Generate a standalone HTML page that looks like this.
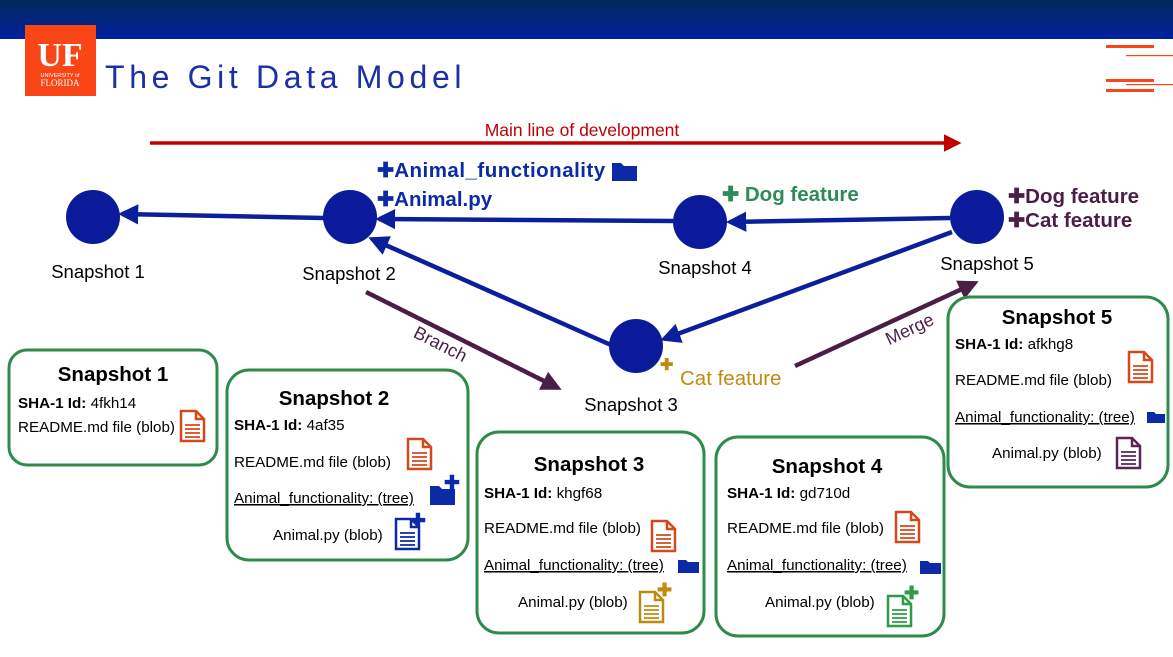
<!DOCTYPE html>
<html><head><meta charset="utf-8"><style>
html,body{margin:0;padding:0;background:#fff}
svg{display:block;font-family:"Liberation Sans",sans-serif}
.b{font-family:"Liberation Sans",sans-serif;font-size:15.2px;fill:#000}
.t{font-size:20.5px;font-weight:bold;text-anchor:middle}
.l{font-size:18.5px;fill:#000;text-anchor:middle}
.u{text-decoration:underline;text-decoration-color:#e03030}
</style></head><body>
<svg width="1173" height="657" viewBox="0 0 1173 657">
<defs>
<linearGradient id="hg" x1="0" y1="0" x2="0" y2="1"><stop offset="0" stop-color="#002a5a"/><stop offset="1" stop-color="#0020a0"/></linearGradient>
<marker id="ab" viewBox="0 0 10 10" refX="8" refY="5" markerWidth="4.5" markerHeight="4.5" orient="auto"><path d="M0 0L10 5L0 10Z" fill="#0b1f9c"/></marker>
<marker id="ap" viewBox="0 0 10 10" refX="8" refY="5" markerWidth="4.5" markerHeight="4.5" orient="auto"><path d="M0 0L10 5L0 10Z" fill="#4b1e48"/></marker>
<marker id="ar" viewBox="0 0 10 10" refX="8" refY="5" markerWidth="5" markerHeight="5" orient="auto"><path d="M0 0L10 5L0 10Z" fill="#c00000"/></marker>
</defs>
<rect x="0" y="0" width="1173" height="39" fill="url(#hg)"/>
<rect x="25" y="25" width="71" height="71" fill="#fa4616"/>
<text x="60" y="66" text-anchor="middle" font-family="Liberation Serif,serif" font-weight="bold" font-size="34" fill="#fff">UF</text>
<text x="60" y="77" text-anchor="middle" font-size="5.5" fill="#fff">UNIVERSITY of</text>
<text x="60" y="86" text-anchor="middle" font-family="Liberation Serif,serif" font-size="9" fill="#fff">FLORIDA</text>
<text x="105" y="88" font-size="32" fill="#1a2fa8" letter-spacing="1.5" textLength="358">The Git Data Model</text>
<rect x="1106" y="45" width="48" height="3" fill="#fa4616"/>
<rect x="1126" y="55" width="47" height="1.2" fill="#fa4616"/>
<rect x="1106" y="79" width="48" height="3" fill="#fa4616"/>
<rect x="1126" y="84" width="47" height="1.2" fill="#fa4616"/>
<rect x="1106" y="89" width="48" height="3" fill="#fa4616"/>

<line x1="150" y1="143" x2="958" y2="143" stroke="#c00000" stroke-width="3.5" marker-end="url(#ar)"/>
<text x="582" y="136" text-anchor="middle" font-size="17.5" fill="#c00000">Main line of development</text>

<g stroke="#0b1f9c" stroke-width="4.5" fill="none">
<line x1="324" y1="218" x2="122" y2="214" marker-end="url(#ab)"/>
<line x1="673" y1="221" x2="379" y2="219" marker-end="url(#ab)"/>
<line x1="950" y1="218" x2="730" y2="222" marker-end="url(#ab)"/>
<line x1="611" y1="345" x2="372" y2="239" marker-end="url(#ab)"/>
<line x1="952" y1="232" x2="664" y2="339" marker-end="url(#ab)"/>
</g>
<g stroke="#4b1e48" stroke-width="4.5">
<line x1="366" y1="292" x2="558" y2="388" marker-end="url(#ap)"/>
<line x1="795" y1="366" x2="975" y2="283" marker-end="url(#ap)"/>
</g>
<text x="440" y="350" font-size="18" fill="#4b1e48" text-anchor="middle" transform="rotate(27 440 345)">Branch</text>
<text x="910" y="335" font-size="18" fill="#4b1e48" text-anchor="middle" transform="rotate(-25 910 330)">Merge</text>

<g fill="#0a1a9a">
<circle cx="93" cy="217" r="27"/><circle cx="350" cy="217" r="27"/><circle cx="700" cy="222" r="27"/><circle cx="977" cy="217" r="27"/><circle cx="636" cy="346" r="27"/>
</g>
<text class="l" x="98" y="278">Snapshot 1</text>
<text class="l" x="349" y="280">Snapshot 2</text>
<text class="l" x="705" y="274">Snapshot 4</text>
<text class="l" x="987" y="270">Snapshot 5</text>
<text class="l" x="631" y="411">Snapshot 3</text>

<g font-size="20.5" font-weight="bold">
<text x="377" y="177" fill="#0d2aa6">✚<tspan textLength="211">Animal_functionality</tspan></text>
<text x="377" y="206" fill="#0d2aa6">✚Animal.py</text>
<text x="722" y="201" fill="#2e8b57">✚ <tspan>Dog feature</tspan></text>
<text x="1008" y="203" fill="#4b1e48">✚Dog feature</text>
<text x="1008" y="227" fill="#4b1e48">✚Cat feature</text>
</g>
<path d="M612 181V163h9l3 3h13v15Z" fill="#0d2aa6"/>
<text x="660" y="370" font-size="16" font-weight="bold" fill="#c08a10">✚</text>
<text x="680" y="385" font-size="20.5" fill="#c08a10">Cat feature</text>

<g fill="#fff" stroke="#2e8b4a" stroke-width="3">
<rect x="9" y="350" width="208" height="115" rx="18"/>
<rect x="227" y="370" width="241" height="190" rx="22"/>
<rect x="477" y="432" width="227" height="201" rx="22"/>
<rect x="716" y="437" width="228" height="199" rx="22"/>
<rect x="948" y="297" width="220" height="190" rx="22"/>
</g>

<!-- card 1 -->
<text class="b t" x="113" y="381">Snapshot 1</text>
<text class="b" x="18" y="408"><tspan font-weight="bold">SHA-1 Id:</tspan> 4fkh14</text>
<text class="b" x="18" y="432">README.md file (blob)</text>
<g transform="translate(181,411)" stroke="#d24a1c" stroke-width="2.5" fill="#fff"><path d="M0 0H15L23 8V30H0Z"/><path d="M15 0V8H23" fill="none"/><path d="M4 14H19M4 18H19M4 22H19M4 26H19" stroke-width="1.8"/></g>

<!-- card 2 -->
<text class="b t" x="334" y="405">Snapshot 2</text>
<text class="b" x="234" y="430"><tspan font-weight="bold">SHA-1 Id:</tspan> 4af35</text>
<text class="b" x="234" y="467">README.md file (blob)</text>
<g transform="translate(408,439)" stroke="#d24a1c" stroke-width="2.5" fill="#fff"><path d="M0 0H15L23 8V30H0Z"/><path d="M15 0V8H23" fill="none"/><path d="M4 14H19M4 18H19M4 22H19M4 26H19" stroke-width="1.8"/></g>
<text class="b u" x="234" y="503">Animal_functionality: (tree)</text>
<path d="M430 505V486h9l3 3h13v16Z" fill="#0d2aa6"/><text x="444" y="489" font-size="19" font-weight="bold" fill="#0d2aa6">✚</text>
<text class="b" x="273" y="540">Animal.py (blob)</text>
<g transform="translate(396,519)" stroke="#0d2aa6" stroke-width="2.5" fill="#fff"><path d="M0 0H15L23 8V30H0Z"/><path d="M15 0V8H23" fill="none"/><path d="M4 14H19M4 18H19M4 22H19M4 26H19" stroke-width="1.8"/></g>
<text x="410" y="527" font-size="19" font-weight="bold" fill="#0d2aa6">✚</text>

<!-- card 3 -->
<text class="b t" x="589" y="471">Snapshot 3</text>
<text class="b" x="484" y="498"><tspan font-weight="bold">SHA-1 Id:</tspan> khgf68</text>
<text class="b" x="484" y="533">README.md file (blob)</text>
<g transform="translate(652,521)" stroke="#d24a1c" stroke-width="2.5" fill="#fff"><path d="M0 0H15L23 8V30H0Z"/><path d="M15 0V8H23" fill="none"/><path d="M4 14H19M4 18H19M4 22H19M4 26H19" stroke-width="1.8"/></g>
<text class="b u" x="484" y="570">Animal_functionality: (tree)</text>
<path d="M678 573V560h8l2 2h11v11Z" fill="#0d2aa6"/>
<text class="b" x="518" y="607">Animal.py (blob)</text>
<g transform="translate(640,592)" stroke="#c08a10" stroke-width="2.5" fill="#fff"><path d="M0 0H15L23 8V30H0Z"/><path d="M15 0V8H23" fill="none"/><path d="M4 14H19M4 18H19M4 22H19M4 26H19" stroke-width="1.8"/></g>
<text x="657" y="596" font-size="18" font-weight="bold" fill="#c08a10">✚</text>

<!-- card 4 -->
<text class="b t" x="827" y="473">Snapshot 4</text>
<text class="b" x="727" y="498"><tspan font-weight="bold">SHA-1 Id:</tspan> gd710d</text>
<text class="b" x="727" y="533">README.md file (blob)</text>
<g transform="translate(896,512)" stroke="#d24a1c" stroke-width="2.5" fill="#fff"><path d="M0 0H15L23 8V30H0Z"/><path d="M15 0V8H23" fill="none"/><path d="M4 14H19M4 18H19M4 22H19M4 26H19" stroke-width="1.8"/></g>
<text class="b u" x="727" y="570">Animal_functionality: (tree)</text>
<path d="M920 574V561h8l2 2h11v11Z" fill="#0d2aa6"/>
<text class="b" x="765" y="607">Animal.py (blob)</text>
<g transform="translate(888,596)" stroke="#2e9b4a" stroke-width="2.5" fill="#fff"><path d="M0 0H15L23 8V30H0Z"/><path d="M15 0V8H23" fill="none"/><path d="M4 14H19M4 18H19M4 22H19M4 26H19" stroke-width="1.8"/></g>
<text x="904" y="599" font-size="18" font-weight="bold" fill="#2e9b4a">✚</text>

<!-- card 5 -->
<text class="b t" x="1057" y="324">Snapshot 5</text>
<text class="b" x="955" y="349"><tspan font-weight="bold">SHA-1 Id:</tspan> afkhg8</text>
<text class="b" x="955" y="385">README.md file (blob)</text>
<g transform="translate(1129,352)" stroke="#d24a1c" stroke-width="2.5" fill="#fff"><path d="M0 0H15L23 8V30H0Z"/><path d="M15 0V8H23" fill="none"/><path d="M4 14H19M4 18H19M4 22H19M4 26H19" stroke-width="1.8"/></g>
<text class="b u" x="955" y="422">Animal_functionality: (tree)</text>
<path d="M1147 423V412h7l2 2h9v9Z" fill="#0d2aa6"/>
<text class="b" x="992" y="458">Animal.py (blob)</text>
<g transform="translate(1117,438)" stroke="#5a2458" stroke-width="2.5" fill="#fff"><path d="M0 0H15L23 8V30H0Z"/><path d="M15 0V8H23" fill="none"/><path d="M4 14H19M4 18H19M4 22H19M4 26H19" stroke-width="1.8"/></g>
</svg>
</body></html>
